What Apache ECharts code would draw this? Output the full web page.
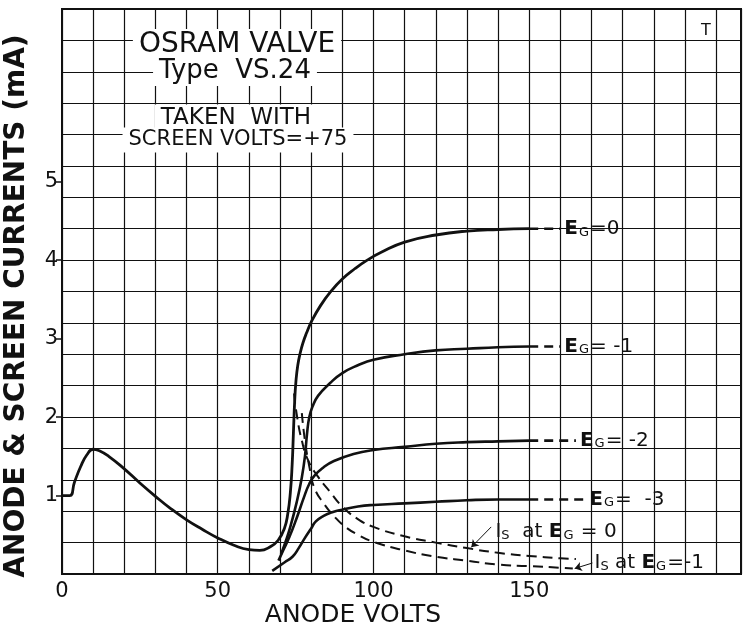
<!DOCTYPE html>
<html>
<head>
<meta charset="utf-8">
<script src="https://cdn.jsdelivr.net/npm/echarts@6/dist/echarts.min.js"></script>
<style>
  html, body { margin: 0; padding: 0; background: #fff; }
  #chart { width: 744px; height: 635px; }
</style>
</head>
<body>
<div id="chart"></div>
<script>
// axis labels
const xLabels = [0, 50, 100, 150]
const yLabels = [1, 2, 3, 4, 5]

// anode current, Eg = 0 (includes the low-voltage hump shared by all grids)
const anodeEg0 = [
  [0, 1.0], [2.5, 1.0], [4, 1.17], [6, 1.37], [8, 1.52], [10, 1.59], [12, 1.57], [15, 1.5],
  [20, 1.34], [25, 1.16], [30, 0.99], [35, 0.83], [40, 0.69], [45, 0.57], [50, 0.46],
  [55, 0.37], [60, 0.31], [63.5, 0.3], [67, 0.35], [69.4, 0.43], [71.4, 0.58], [72.5, 0.77],
  [73.3, 1.03], [73.9, 1.4], [74.3, 1.8], [74.7, 2.2], [75.1, 2.45], [75.7, 2.66],
  [76.5, 2.82], [77.4, 2.95], [78.5, 3.07], [80, 3.21], [83, 3.42], [86.3, 3.6], [90, 3.76],
  [94, 3.89], [98, 4.0], [102.5, 4.1], [110, 4.23], [120, 4.32], [130, 4.37], [140, 4.39],
  [150, 4.4]
]
const anodeEg0Ext = [[150, 4.4], [160, 4.4]]

const anodeEg1 = [
  [70.3, 0.25], [71.5, 0.38], [73.3, 0.6], [75.5, 0.94], [77, 1.23], [78, 1.5], [78.7, 1.8],
  [79.4, 2.0], [80.4, 2.13], [82.2, 2.27], [86, 2.43], [90, 2.56], [95, 2.66], [100, 2.73],
  [110, 2.8], [120, 2.85], [130, 2.87], [140, 2.89], [150, 2.9]
]
const anodeEg1Ext = [[150, 2.9], [160, 2.9]]

const anodeEg2 = [
  [69.5, 0.17], [71, 0.3], [73, 0.47], [75.5, 0.73], [77.7, 0.98], [79.3, 1.14], [81, 1.25],
  [84, 1.36], [87.3, 1.44], [93.6, 1.53], [100, 1.58], [110, 1.62], [120, 1.66], [130, 1.68],
  [140, 1.69], [150, 1.7]
]
const anodeEg2Ext = [[150, 1.7], [165, 1.7]]

const anodeEg3 = [
  [67.5, 0.04], [71.5, 0.15], [74, 0.22], [76, 0.33], [78, 0.46], [80, 0.58], [81.5, 0.67],
  [84, 0.74], [87, 0.79], [90, 0.82], [95, 0.86], [100, 0.88], [110, 0.9], [120, 0.92],
  [130, 0.94], [140, 0.95], [150, 0.95]
]
const anodeEg3Ext = [[150, 0.95], [168, 0.95]]

// screen currents
const screenEg0 = [
  [74.5, 2.3], [75.5, 2.0], [77, 1.7], [79, 1.45], [82, 1.25], [86, 1.05], [90, 0.86],
  [95, 0.7], [100, 0.6], [110, 0.48], [120, 0.4], [130, 0.33], [140, 0.27], [150, 0.23],
  [160, 0.2], [165, 0.19]
]
const screenEg1 = [
  [77, 2.05], [78, 1.7], [79.5, 1.35], [81, 1.1], [84, 0.9], [87.5, 0.73], [91, 0.6],
  [95, 0.5], [100, 0.41], [110, 0.3], [120, 0.22], [130, 0.17], [140, 0.12], [150, 0.1],
  [160, 0.08], [164, 0.07]
]

const INK = '#111'
const FONT = 'DejaVu Sans'

const chart = echarts.init(document.getElementById('chart'))

const egRich = {
  e: { fontFamily: FONT, fontSize: 20, fontWeight: 'bold', color: INK, verticalAlign: 'bottom' },
  g: { fontFamily: FONT, fontSize: 13, color: INK, verticalAlign: 'bottom', padding: [0, 1, 0, 1] },
  v: { fontFamily: FONT, fontSize: 20, color: INK, verticalAlign: 'bottom' },
  i: { fontFamily: FONT, fontSize: 20, color: INK, verticalAlign: 'bottom' },
  s: { fontFamily: FONT, fontSize: 13, color: INK, verticalAlign: 'bottom' }
}

function solid(data, width) {
  return {
    type: 'line', data, showSymbol: false, smooth: 0.5, z: 3,
    lineStyle: { color: INK, width: width || 2.6 }
  }
}

function extension(data, label) {
  return {
    type: 'line', data, showSymbol: false, z: 3,
    lineStyle: { color: INK, width: 2.6, type: [9, 6] },
    endLabel: {
      show: true, distance: 4,
      formatter: label, rich: egRich
    }
  }
}

function screen(data, labelCoord, labelText, arrowFrom, arrowTo) {
  return {
    type: 'line', data, showSymbol: false, smooth: 0.5, z: 2,
    lineStyle: { color: INK, width: 2, type: [10, 6] },
    markPoint: {
      symbol: 'circle', symbolSize: 1, silent: true,
      itemStyle: { color: 'rgba(0,0,0,0)' },
      label: { show: true, position: 'right', distance: 0, formatter: labelText, rich: egRich },
      data: [{ coord: labelCoord }]
    },
    markLine: {
      silent: true, symbol: ['none', 'arrow'], symbolSize: 7,
      label: { show: false },
      lineStyle: { color: INK, width: 1, type: 'solid', curveness: 0.35 },
      data: [[{ coord: arrowFrom }, { coord: arrowTo }]]
    }
  }
}

function textBox(text, x, y, size, bg) {
  return {
    type: 'text', x, y, z: 10,
    style: {
      text, font: `${size}px "${FONT}"`, fill: INK,
      align: 'center', verticalAlign: 'middle',
      backgroundColor: bg ? '#fff' : null, padding: bg ? [2, 6] : 0
    }
  }
}

const option = {
  animation: false,
  backgroundColor: '#fff',
  grid: {
    left: 62, right: 2, top: 9, bottom: 61,
    show: true, borderColor: INK, borderWidth: 2, backgroundColor: '#fff'
  },
  xAxis: {
    type: 'value', min: 0, max: 218, interval: 10,
    axisLine: { show: false },
    axisTick: { show: false },
    splitLine: { lineStyle: { color: INK, width: 1.2 } },
    axisLabel: {
      margin: 7, color: INK, fontFamily: FONT, fontSize: 21,
      formatter: v => (xLabels.includes(v) ? String(v) : '')
    }
  },
  yAxis: [
    {
      type: 'value', min: 0, max: 7.2, interval: 0.4,
      axisLine: { show: false },
      axisTick: { show: false },
      axisLabel: { show: false },
      splitLine: { lineStyle: { color: INK, width: 1.2 } }
    },
    {
      type: 'value', min: 0, max: 7.2, interval: 1, position: 'left',
      axisLine: { show: false },
      splitLine: { show: false },
      axisTick: {
        show: true, length: 6, customValues: yLabels,
        lineStyle: { color: INK, width: 1.5 }
      },
      axisLabel: {
        margin: 4, color: INK, fontFamily: FONT, fontSize: 21,
        customValues: yLabels,
        formatter: v => (yLabels.includes(v) ? String(v) : '')
      }
    }
  ],
  graphic: [
    textBox('OSRAM VALVE', 237, 45, 28, true),
    textBox('Type  VS.24', 235, 71, 26, true),
    textBox('TAKEN  WITH', 236, 118, 23, true),
    textBox('SCREEN VOLTS=+75', 238, 140, 21, true),
    textBox('T', 706, 31, 16, false),
    {
      type: 'text', x: 17, y: 306, rotation: Math.PI / 2, z: 10,
      style: {
        text: 'ANODE & SCREEN CURRENTS (mA)', font: `bold 28px "${FONT}"`, fill: INK,
        align: 'center', verticalAlign: 'middle'
      }
    },
    {
      type: 'text', x: 353, y: 615, z: 10,
      style: {
        text: 'ANODE VOLTS', font: `25px "${FONT}"`, fill: INK,
        align: 'center', verticalAlign: 'middle'
      }
    }
  ],
  series: [
    screen(screenEg0, [139, 0.535], '{i|I}{s|S}{v|  at }{e|E}{g|G}{v| = 0}', [137.8, 0.6], [131.4, 0.34]),
    screen(screenEg1, [170.8, 0.14], '{i|I}{s|S}{v| at }{e|E}{g|G}{v|=-1}', [170.3, 0.14], [164.6, 0.07]),
    solid(anodeEg0, 2.8),
    extension(anodeEg0Ext, '{e|E}{g|G}{v|=0}'),
    solid(anodeEg1),
    extension(anodeEg1Ext, '{e|E}{g|G}{v|= -1}'),
    solid(anodeEg2),
    extension(anodeEg2Ext, '{e|E}{g|G}{v|= -2}'),
    solid(anodeEg3),
    extension(anodeEg3Ext, '{e|E}{g|G}{v|=  -3}')
  ]
}

// every series is drawn on the fine-grid y axis
option.series.forEach(s => { s.yAxisIndex = 0 })

chart.setOption(option)
</script>
</body>
</html>
